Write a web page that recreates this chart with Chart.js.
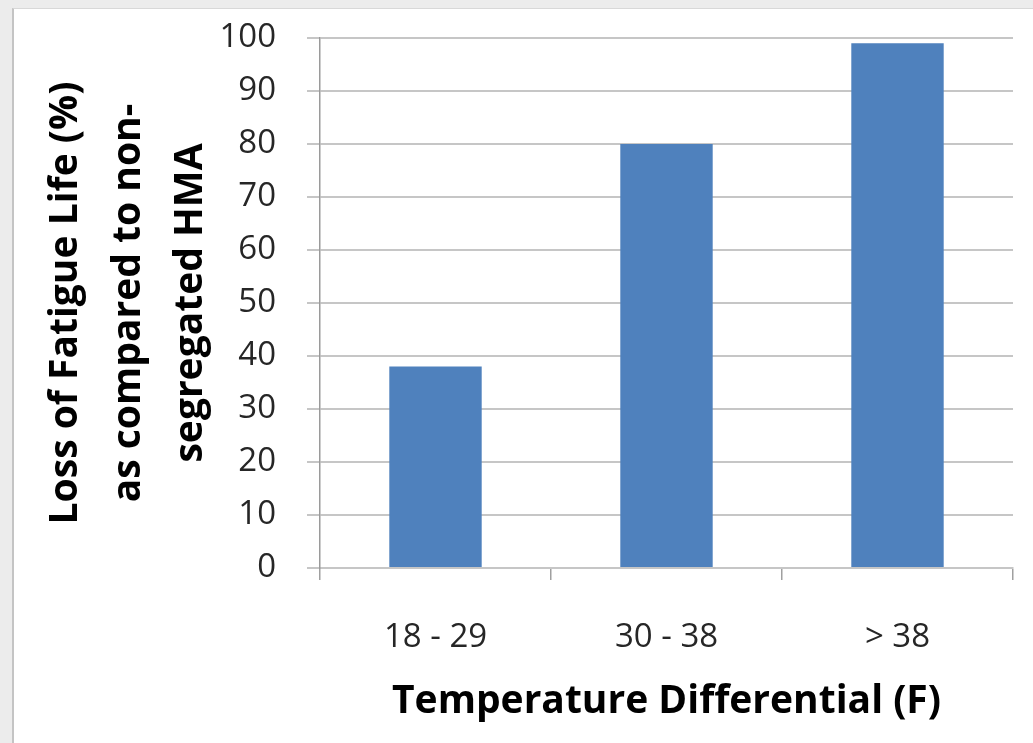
<!DOCTYPE html>
<html>
<head>
<meta charset="utf-8">
<script src="https://cdn.jsdelivr.net/npm/chart.js"></script>
<style>
  html, body {
    margin: 0;
    padding: 0;
    width: 1033px;
    height: 743px;
    overflow: hidden;
    background: #ececec;
  }
  /* light frame round the chart, like the cropped screenshot */
  .frame {
    position: absolute;
    left: 12px;
    top: 8px;
    right: 0;
    bottom: 0;
    background: #ffffff;
    border-left: 2px solid #c4c4c4;
    border-top: 1px solid #d8d8d8;
  }
  #chart {
    position: absolute;
    left: 0;
    top: 0;
  }
</style>
</head>
<body>

<div class="frame"></div>
<canvas id="chart" width="1033" height="743"></canvas>

<script>
// data
const categories = ['18 - 29', '30 - 38', '> 38'];
const lossValues = [38, 80, 99];
const yTitleLines = ['Loss of Fatigue Life (%)', 'as compared to non-', 'segregated HMA'];
const xTitle = 'Temperature Differential (F)';

const fontFamily = "'Open Sans', 'Noto Sans', sans-serif";

// three-line rotated y title, baselines placed like the original
const yTitleBaselines = [77, 140, 202];

const yTitlePlugin = {
  id: 'yTitle',
  afterDraw(chart) {
    const ctx = chart.ctx;
    const area = chart.chartArea;
    const midY = (area.top + area.bottom) / 2;
    ctx.save();
    ctx.font = 'bold 39px ' + fontFamily;
    ctx.fillStyle = '#000000';
    ctx.textAlign = 'center';
    ctx.textBaseline = 'alphabetic';
    yTitleLines.forEach((line, i) => {
      ctx.save();
      ctx.translate(yTitleBaselines[i], midY);
      ctx.rotate(-Math.PI / 2);
      ctx.fillText(line, 0, 0);
      ctx.restore();
    });
    ctx.restore();
  }
};

new Chart(document.getElementById('chart'), {
  type: 'bar',
  data: {
    labels: categories,
    datasets: [{
      data: lossValues,
      backgroundColor: '#4f81bd',
      borderWidth: 0,
      categoryPercentage: 1.0,
      barPercentage: 0.4
    }]
  },
  options: {
    responsive: false,
    animation: false,
    layout: {
      padding: { left: 0, right: 20, top: 38, bottom: 0 }
    },
    plugins: {
      legend: { display: false },
      tooltip: { enabled: false }
    },
    scales: {
      x: {
        offset: true,
        grid: {
          display: true,
          offset: true,
          drawOnChartArea: false,
          drawTicks: true,
          tickLength: 12,
          color: '#a0a0a0',
          lineWidth: 1.5
        },
        border: { display: true, color: '#c6c6c6', width: 2 },
        ticks: {
          color: '#262626',
          padding: 38,
          font: { family: fontFamily, size: 33 }
        },
        title: {
          display: true,
          text: xTitle,
          color: '#000000',
          padding: { top: 0, bottom: 18 },
          font: { family: fontFamily, size: 39, weight: 'bold' }
        },
        afterFit: (scale) => { scale.height = 175; }
      },
      y: {
        min: 0,
        max: 100,
        ticks: {
          stepSize: 10,
          color: '#262626',
          padding: 31,
          font: { family: fontFamily, size: 33 }
        },
        grid: {
          color: '#c6c6c6',
          lineWidth: 2,
          tickLength: 13
        },
        border: { display: true, color: '#9a9a9a', width: 1.5 },
        title: { display: false },
        afterFit: (scale) => {
          scale.width = 320;
          // let the layout padding alone decide where the plot starts
          scale.paddingTop = 0;
          scale.paddingBottom = 0;
        }
      }
    }
  },
  plugins: [yTitlePlugin]
});
</script>

</body>
</html>
